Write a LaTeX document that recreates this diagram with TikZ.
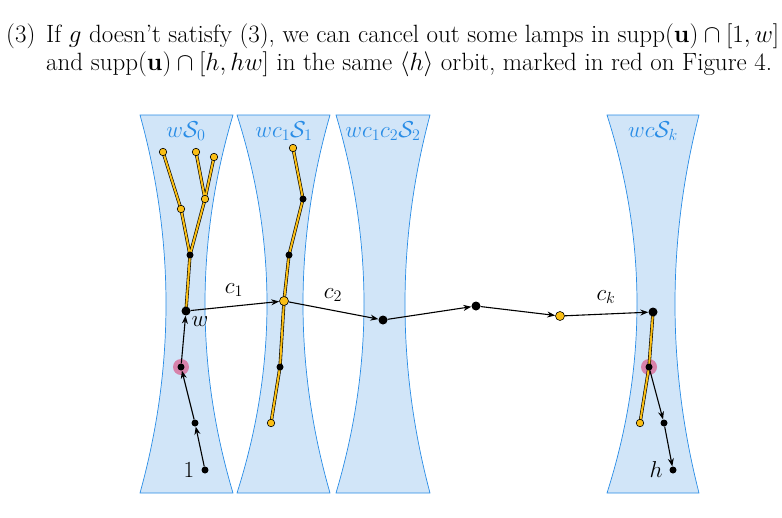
\RequirePackage{fix-cm}
\documentclass[tikz,border=0pt]{standalone}
\usepackage{fontspec}
\setmainfont{Latin Modern Roman}
\usetikzlibrary{arrows.meta}
\begin{document}
\begin{tikzpicture}[x=1pt,y=-1pt,
  strip/.style={fill=stripfill,draw=stripblue,line width=0.7pt},
  lbl/.style={text=stripblue,font=\fontsize{23}{23}\selectfont},
  bd/.style={circle,fill=black,inner sep=0pt,minimum size=9pt},
  sd/.style={circle,fill=black,inner sep=0pt,minimum size=7pt},
  yd/.style={circle,fill=lampy,draw=black,line width=0.6pt,inner sep=0pt,minimum size=7.5pt},
  ye/.style={draw=black,double=lampy,double distance=2pt,line width=0.6pt},
  ar/.style={-{Stealth[length=8pt,width=6pt]},line width=1.1pt},
  halo/.style={circle,fill=halop,inner sep=0pt,minimum size=16pt},
  txt/.style={font=\fontsize{23}{23}\selectfont}]
\definecolor{stripfill}{RGB}{209,229,248}
\definecolor{stripblue}{RGB}{40,140,230}
\definecolor{lampy}{RGB}{250,190,20}
\definecolor{halop}{RGB}{215,130,170}
\useasboundingbox (0,0) rectangle (782,517);
% text
\node[anchor=base west,font=\fontsize{25}{27}\selectfont,inner sep=0pt] (t0) at (6,42) {(3)};
\node[anchor=base west,font=\fontsize{25}{27}\selectfont,inner sep=0pt] (t1) at (46,42) {If $g$ doesn't satisfy (3), we can cancel out some lamps in $\mathrm{supp}(\mathbf{u})\cap[1,w]$};
\node[anchor=base west,font=\fontsize{25}{27}\selectfont,inner sep=0pt] (t2) at (46,70) {and $\mathrm{supp}(\mathbf{u})\cap[h,hw]$ in the same $\langle h\rangle$ orbit, marked in red on Figure 4.};
% strips
\foreach \lt/\lm/\rt/\rm in {140/166/233/205, 237/267/330/303, 336/364/430/405, 607/637/699/675}{
  \path[strip] (\lt,115) .. controls ({(8*\lm-2*\lt)/6},240) and ({(8*\lm-2*\lt)/6},368) .. (\lt,493) -- (\rt,493) .. controls ({(8*\rm-2*\rt)/6},368) and ({(8*\rm-2*\rt)/6},240) .. (\rt,115) -- cycle;
}
\node[lbl] (l0) at (186,131) {$w\mathcal{S}_0$};
\node[lbl] (l1) at (284,131) {$wc_1\mathcal{S}_1$};
\node[lbl] (l2) at (383,131) {$wc_1c_2\mathcal{S}_2$};
\node[lbl] (l3) at (653,131) {$wc\mathcal{S}_k$};
% halos
\node[halo] (h1) at (181,367) {};
\node[halo] (h2) at (649,367) {};
% strip 1
\coordinate (w) at (186,311);
\coordinate (a1) at (190,255);
\coordinate (a2) at (181,209);
\coordinate (a3) at (205,199);
\coordinate (a4) at (163,152);
\coordinate (a5) at (196,152);
\coordinate (a6) at (214,157);
\coordinate (b1) at (181,367);
\coordinate (b2) at (195,423);
\coordinate (b3) at (205,470);
\draw[ye] (w)--(a1)--(a2)--(a4) (a1)--(a3)--(a5) (a3)--(a6);
% strip 2
\coordinate (s1) at (284,301);
\coordinate (s2) at (289,255);
\coordinate (s3) at (303,199);
\coordinate (s4) at (293,148);
\coordinate (s5) at (280,367);
\coordinate (s6) at (271,423);
\draw[ye] (s6)--(s5)--(s1)--(s2)--(s3)--(s4);
% strip 4
\coordinate (k1) at (653,312);
\coordinate (k2) at (649,367);
\coordinate (k3) at (640,423);
\coordinate (k4) at (664,423);
\coordinate (k5) at (673,470);
\draw[ye] (k1)--(k2)--(k3);
% path
\coordinate (p1) at (383,320);
\coordinate (p2) at (476,306);
\coordinate (p3) at (560,316);
% nodes
\node[bd] (nw) at (w) {};
\node[sd] (na1) at (a1) {};
\node[yd] (na2) at (a2) {};
\node[yd] (na3) at (a3) {};
\node[yd] (na4) at (a4) {};
\node[yd] (na5) at (a5) {};
\node[yd] (na6) at (a6) {};
\node[sd] (nb1) at (b1) {};
\node[sd] (nb2) at (b2) {};
\node[sd] (nb3) at (b3) {};
\node[yd,minimum size=9pt] (ns1) at (s1) {};
\node[sd] (ns2) at (s2) {};
\node[sd] (ns3) at (s3) {};
\node[yd] (ns4) at (s4) {};
\node[sd] (ns5) at (s5) {};
\node[yd] (ns6) at (s6) {};
\node[bd] (np1) at (p1) {};
\node[bd] (np2) at (p2) {};
\node[yd,minimum size=9pt] (np3) at (p3) {};
\node[bd] (nk1) at (k1) {};
\node[sd] (nk2) at (k2) {};
\node[yd] (nk3) at (k3) {};
\node[sd] (nk4) at (k4) {};
\node[sd] (nk5) at (k5) {};
% arrows
\draw[ar] (nb3)--(nb2);
\draw[ar] (nb2)--(nb1);
\draw[ar] (nb1)--(nw);
\draw[ar] (nw)--(ns1);
\draw[ar] (ns1)--(np1);
\draw[ar] (np1)--(np2);
\draw[ar] (np2)--(np3);
\draw[ar] (np3)--(nk1);
\draw[ar] (nk2)--(nk4);
\draw[ar] (nk4)--(nk5);
% labels
\node[txt] (lw) at (200,322) {$w$};
\node[txt] (l1x) at (189,470) {$1$};
\node[txt] (lh) at (656,470) {$h$};
\node[txt] (c1) at (234,290) {$c_1$};
\node[txt] (c2) at (333,295) {$c_2$};
\node[txt] (ck) at (606,297) {$c_k$};
\end{tikzpicture}
\end{document}
